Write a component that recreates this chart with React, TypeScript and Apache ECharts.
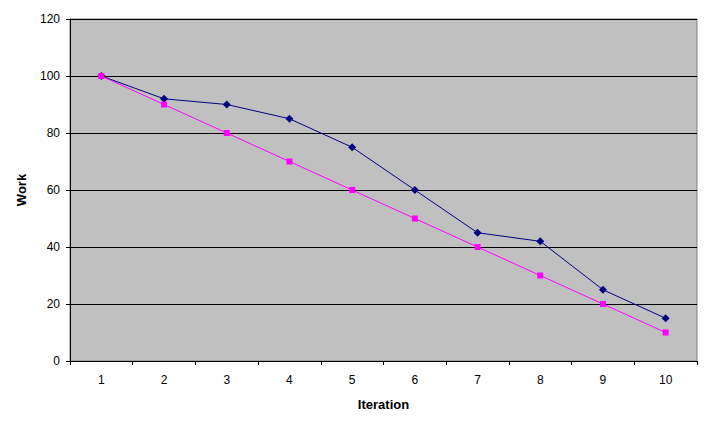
import React, { useEffect, useRef } from "react";
import * as echarts from "echarts";

const categories = ["1", "2", "3", "4", "5", "6", "7", "8", "9", "10"];
const actualWork = [100, 92, 90, 85, 75, 60, 45, 42, 25, 15];
const idealWork = [100, 90, 80, 70, 60, 50, 40, 30, 20, 10];

export default function App() {
  const ref = useRef<HTMLDivElement>(null);
  useEffect(() => {
    if (!ref.current) return;
    const chart = echarts.init(ref.current, null, { renderer: "svg" });
    const font = "Arial, 'Liberation Sans', sans-serif";
    chart.setOption({
      animation: false,
      backgroundColor: "#ffffff",
      grid: {
        left: 70,
        top: 19,
        right: 8,
        bottom: 61,
        show: true,
        backgroundColor: "#C0C0C0",
        borderColor: "#808080",
        borderWidth: 1,
      },
      xAxis: {
        type: "category",
        data: categories,
        boundaryGap: true,
        name: "Iteration",
        nameLocation: "middle",
        nameGap: 37,
        nameTextStyle: { fontFamily: font, fontSize: 13, fontWeight: "bold", color: "#000" },
        axisLine: { lineStyle: { color: "#000", width: 1 } },
        axisTick: { show: true, length: 4, lineStyle: { color: "#000" } },
        axisLabel: { fontFamily: font, fontSize: 12, color: "#000", margin: 13 },
        splitLine: { show: false },
      },
      yAxis: {
        type: "value",
        min: 0,
        max: 120,
        interval: 20,
        name: "Work",
        nameLocation: "middle",
        nameGap: 42,
        nameTextStyle: { fontFamily: font, fontSize: 13, fontWeight: "bold", color: "#000" },
        axisLine: { show: true, lineStyle: { color: "#000", width: 1 } },
        axisTick: { show: true, length: 4, lineStyle: { color: "#000" } },
        axisLabel: { fontFamily: font, fontSize: 12, color: "#000", margin: 10 },
        splitLine: { show: true, lineStyle: { color: "#000", width: 1 } },
      },
      series: [
        {
          name: "Actual",
          type: "line",
          data: actualWork,
          symbol: "diamond",
          symbolSize: 8,
          lineStyle: { color: "#000080", width: 1 },
          itemStyle: { color: "#000080" },
          z: 3,
        },
        {
          name: "Ideal",
          type: "line",
          data: idealWork,
          symbol: "rect",
          symbolSize: 6,
          lineStyle: { color: "#FF00FF", width: 1 },
          itemStyle: { color: "#FF00FF" },
          z: 4,
        },
      ],
    });
    return () => chart.dispose();
  }, []);
  return (
    <div
      ref={ref}
      style={{ position: "fixed", left: 0, top: 0, width: 705, height: 422 }}
    />
  );
}
